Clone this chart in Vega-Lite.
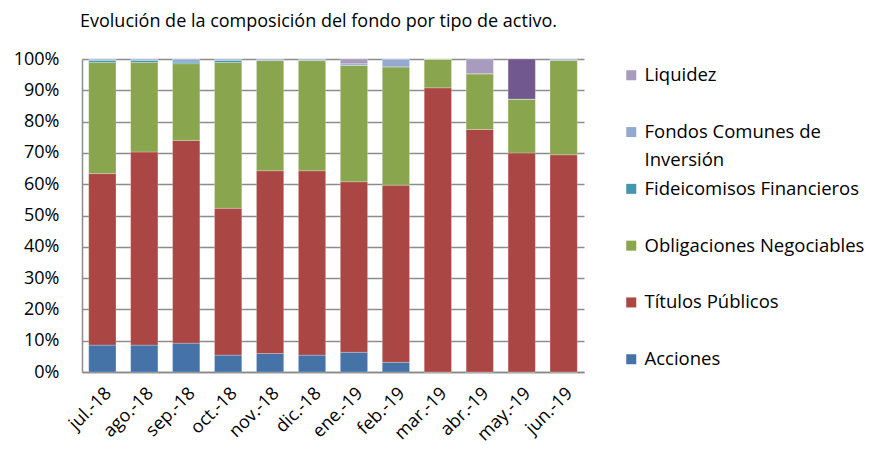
{
  "$schema": "https://vega.github.io/schema/vega-lite/v6.json",
  "width": 502,
  "height": 313,
  "autosize": {"type": "none"},
  "padding": {"left": 82, "top": 59, "right": 297, "bottom": 78},
  "background": "white",
  "config": {
    "font": "Open Sans",
    "view": {"stroke": null}
  },
  "title": {
    "text": "Evolución de la composición del fondo por tipo de activo.",
    "anchor": "start",
    "frame": "group",
    "fontSize": 18,
    "fontWeight": "normal",
    "color": "#000000",
    "offset": 19,
    "dx": -2
  },
  "data": {
    "values": [
      {"mes": "jul.-18", "tipo": "Acciones", "orden": 1, "valor": 8.6},
      {"mes": "jul.-18", "tipo": "Títulos Públicos", "orden": 2, "valor": 54.8},
      {"mes": "jul.-18", "tipo": "Obligaciones Negociables", "orden": 3, "valor": 35.5},
      {"mes": "jul.-18", "tipo": "Fideicomisos Financieros", "orden": 4, "valor": 0.6},
      {"mes": "jul.-18", "tipo": "Fondos Comunes de Inversión", "orden": 5, "valor": 0.5},
      {"mes": "jul.-18", "tipo": "Liquidez", "orden": 6, "valor": 0},
      {"mes": "ago.-18", "tipo": "Acciones", "orden": 1, "valor": 8.6},
      {"mes": "ago.-18", "tipo": "Títulos Públicos", "orden": 2, "valor": 61.7},
      {"mes": "ago.-18", "tipo": "Obligaciones Negociables", "orden": 3, "valor": 28.6},
      {"mes": "ago.-18", "tipo": "Fideicomisos Financieros", "orden": 4, "valor": 0.6},
      {"mes": "ago.-18", "tipo": "Fondos Comunes de Inversión", "orden": 5, "valor": 0.5},
      {"mes": "ago.-18", "tipo": "Liquidez", "orden": 6, "valor": 0},
      {"mes": "sep.-18", "tipo": "Acciones", "orden": 1, "valor": 9.2},
      {"mes": "sep.-18", "tipo": "Títulos Públicos", "orden": 2, "valor": 64.8},
      {"mes": "sep.-18", "tipo": "Obligaciones Negociables", "orden": 3, "valor": 24.5},
      {"mes": "sep.-18", "tipo": "Fideicomisos Financieros", "orden": 4, "valor": 0.5},
      {"mes": "sep.-18", "tipo": "Fondos Comunes de Inversión", "orden": 5, "valor": 1.0},
      {"mes": "sep.-18", "tipo": "Liquidez", "orden": 6, "valor": 0},
      {"mes": "oct.-18", "tipo": "Acciones", "orden": 1, "valor": 5.4},
      {"mes": "oct.-18", "tipo": "Títulos Públicos", "orden": 2, "valor": 46.9},
      {"mes": "oct.-18", "tipo": "Obligaciones Negociables", "orden": 3, "valor": 46.6},
      {"mes": "oct.-18", "tipo": "Fideicomisos Financieros", "orden": 4, "valor": 0.6},
      {"mes": "oct.-18", "tipo": "Fondos Comunes de Inversión", "orden": 5, "valor": 0.5},
      {"mes": "oct.-18", "tipo": "Liquidez", "orden": 6, "valor": 0},
      {"mes": "nov.-18", "tipo": "Acciones", "orden": 1, "valor": 5.9},
      {"mes": "nov.-18", "tipo": "Títulos Públicos", "orden": 2, "valor": 58.4},
      {"mes": "nov.-18", "tipo": "Obligaciones Negociables", "orden": 3, "valor": 35.2},
      {"mes": "nov.-18", "tipo": "Fideicomisos Financieros", "orden": 4, "valor": 0},
      {"mes": "nov.-18", "tipo": "Fondos Comunes de Inversión", "orden": 5, "valor": 0.5},
      {"mes": "nov.-18", "tipo": "Liquidez", "orden": 6, "valor": 0},
      {"mes": "dic.-18", "tipo": "Acciones", "orden": 1, "valor": 5.4},
      {"mes": "dic.-18", "tipo": "Títulos Públicos", "orden": 2, "valor": 58.9},
      {"mes": "dic.-18", "tipo": "Obligaciones Negociables", "orden": 3, "valor": 35.2},
      {"mes": "dic.-18", "tipo": "Fideicomisos Financieros", "orden": 4, "valor": 0},
      {"mes": "dic.-18", "tipo": "Fondos Comunes de Inversión", "orden": 5, "valor": 0.5},
      {"mes": "dic.-18", "tipo": "Liquidez", "orden": 6, "valor": 0},
      {"mes": "ene.-19", "tipo": "Acciones", "orden": 1, "valor": 6.3},
      {"mes": "ene.-19", "tipo": "Títulos Públicos", "orden": 2, "valor": 54.5},
      {"mes": "ene.-19", "tipo": "Obligaciones Negociables", "orden": 3, "valor": 37.2},
      {"mes": "ene.-19", "tipo": "Fideicomisos Financieros", "orden": 4, "valor": 0},
      {"mes": "ene.-19", "tipo": "Fondos Comunes de Inversión", "orden": 5, "valor": 0.5},
      {"mes": "ene.-19", "tipo": "Liquidez", "orden": 6, "valor": 1.5},
      {"mes": "feb.-19", "tipo": "Acciones", "orden": 1, "valor": 3.1},
      {"mes": "feb.-19", "tipo": "Títulos Públicos", "orden": 2, "valor": 56.6},
      {"mes": "feb.-19", "tipo": "Obligaciones Negociables", "orden": 3, "valor": 37.8},
      {"mes": "feb.-19", "tipo": "Fideicomisos Financieros", "orden": 4, "valor": 0},
      {"mes": "feb.-19", "tipo": "Fondos Comunes de Inversión", "orden": 5, "valor": 2.5},
      {"mes": "feb.-19", "tipo": "Liquidez", "orden": 6, "valor": 0},
      {"mes": "mar.-19", "tipo": "Acciones", "orden": 1, "valor": 0},
      {"mes": "mar.-19", "tipo": "Títulos Públicos", "orden": 2, "valor": 90.8},
      {"mes": "mar.-19", "tipo": "Obligaciones Negociables", "orden": 3, "valor": 9.2},
      {"mes": "mar.-19", "tipo": "Fideicomisos Financieros", "orden": 4, "valor": 0},
      {"mes": "mar.-19", "tipo": "Fondos Comunes de Inversión", "orden": 5, "valor": 0},
      {"mes": "mar.-19", "tipo": "Liquidez", "orden": 6, "valor": 0},
      {"mes": "abr.-19", "tipo": "Acciones", "orden": 1, "valor": 0},
      {"mes": "abr.-19", "tipo": "Títulos Públicos", "orden": 2, "valor": 77.5},
      {"mes": "abr.-19", "tipo": "Obligaciones Negociables", "orden": 3, "valor": 17.8},
      {"mes": "abr.-19", "tipo": "Fideicomisos Financieros", "orden": 4, "valor": 0},
      {"mes": "abr.-19", "tipo": "Fondos Comunes de Inversión", "orden": 5, "valor": 0},
      {"mes": "abr.-19", "tipo": "Liquidez", "orden": 6, "valor": 4.7},
      {"mes": "may.-19", "tipo": "Acciones", "orden": 1, "valor": 0},
      {"mes": "may.-19", "tipo": "Títulos Públicos", "orden": 2, "valor": 70.0},
      {"mes": "may.-19", "tipo": "Obligaciones Negociables", "orden": 3, "valor": 17.2},
      {"mes": "may.-19", "tipo": "Fideicomisos Financieros", "orden": 4, "valor": 0},
      {"mes": "may.-19", "tipo": "Fondos Comunes de Inversión", "orden": 5, "valor": 0},
      {"mes": "may.-19", "tipo": "Liquidez", "orden": 6, "valor": 12.8},
      {"mes": "jun.-19", "tipo": "Acciones", "orden": 1, "valor": 0},
      {"mes": "jun.-19", "tipo": "Títulos Públicos", "orden": 2, "valor": 69.4},
      {"mes": "jun.-19", "tipo": "Obligaciones Negociables", "orden": 3, "valor": 30.2},
      {"mes": "jun.-19", "tipo": "Fideicomisos Financieros", "orden": 4, "valor": 0},
      {"mes": "jun.-19", "tipo": "Fondos Comunes de Inversión", "orden": 5, "valor": 0.4},
      {"mes": "jun.-19", "tipo": "Liquidez", "orden": 6, "valor": 0}
    ]
  },
  "mark": {"type": "bar", "stroke": "#ffffff", "strokeWidth": 0.4, "strokeOpacity": 0.6},
  "encoding": {
    "x": {
      "field": "mes",
      "type": "nominal",
      "sort": null,
      "scale": {"paddingInner": 0.35, "paddingOuter": 0.16},
      "axis": {
        "title": null,
        "labelAngle": -45,
        "labelFontSize": 18,
        "labelColor": "#000000",
        "ticks": false,
        "labelPadding": 12,
        "domainColor": "#888888",
        "domainWidth": 1.5
      }
    },
    "y": {
      "field": "valor",
      "type": "quantitative",
      "stack": "normalize",
      "scale": {"domain": [0, 1], "nice": false},
      "axis": {
        "title": null,
        "format": ".0%",
        "values": [0, 0.1, 0.2, 0.3, 0.4, 0.5, 0.6, 0.7, 0.8, 0.9, 1],
        "labelFontSize": 18,
        "labelColor": "#000000",
        "ticks": false,
        "labelPadding": 23,
        "grid": true,
        "gridColor": "#8c8c8c",
        "gridWidth": 1.5,
        "domainColor": "#8c8c8c",
        "domainWidth": 1.5
      }
    },
    "order": {"field": "orden", "type": "quantitative", "sort": "ascending"},
    "color": {
      "condition": {
        "test": "datum.mes === 'may.-19' && datum.tipo === 'Liquidez'",
        "value": "#71588F"
      },
      "field": "tipo",
      "type": "nominal",
      "scale": {
        "domain": ["Liquidez", "_1", "Fondos Comunes de Inversión", "Inversión", "Fideicomisos Financieros", "_2", "Obligaciones Negociables", "_3", "Títulos Públicos", "_4", "Acciones"],
        "range": ["#A99BBD", "#ffffff", "#93A9CF", "#ffffff", "#4198AF", "#ffffff", "#89A54E", "#ffffff", "#AA4643", "#ffffff", "#4572A7"]
      },
      "legend": {
        "title": null,
        "orient": "none",
        "legendX": 540,
        "legendY": 7,
        "symbolType": "square",
        "symbolSize": 100,
        "symbolStrokeWidth": 0,
        "labelFontSize": 18.5,
        "labelColor": "#000000",
        "labelOffset": 4,
        "labelLimit": 300,
        "rowPadding": 9.4,
        "labelExpr": "slice(datum.label, 0, 1) === '_' ? ' ' : (datum.label === 'Fondos Comunes de Inversión' ? 'Fondos Comunes de' : datum.label)"
      }
    }
  }
}
